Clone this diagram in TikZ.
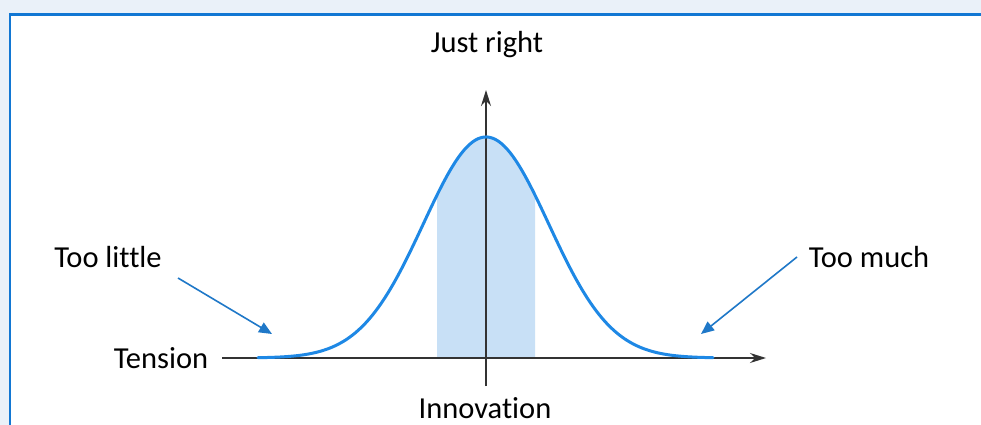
\documentclass[tikz,border=0pt]{standalone}
\usepackage{fontspec}
\setmainfont{Carlito}[Ligatures={NoCommon}]
\usetikzlibrary{arrows.meta,positioning}
\definecolor{pagebg}{HTML}{EAF1F9}
\definecolor{frame}{HTML}{1277D3}
\definecolor{curve}{HTML}{1E88E5}
\definecolor{band}{HTML}{C8E0F6}
\definecolor{pointer}{HTML}{1F78C8}
\definecolor{axisc}{HTML}{333333}
\newcommand{\bell}[1]{358-221*exp(-0.5*((#1-486)/62.7)^2)}
\tikzset{lbl/.style={font=\fontsize{30.5}{36}\selectfont,text=black,inner sep=0pt},
  axisline/.style={axisc,line width=1.4pt,-{Stealth[length=16pt,width=10pt]}},
  pointerline/.style={pointer,line width=1.6pt,-{Triangle[length=13pt,width=11pt]}},
  bellline/.style={curve,line width=3pt,line cap=round}}

\begin{document}
\begin{tikzpicture}[x=1pt,y=-1pt]
\useasboundingbox (0,0) rectangle (981,425);
\fill[pagebg] (0,0) rectangle (981,425);
\fill[white] (10,14.5) rectangle (981,425);
\draw[frame,line width=2.5pt] (10,425) -- (10,14.5) -- (981,14.5);
% shaded band under the bell
\fill[band] (437,358) -- plot[domain=437:535,samples=40] (\x,{\bell{\x}}) -- (535,358) -- cycle;
% axes
\coordinate (xstart) at (222,358);
\coordinate (xend) at (766,358);
\coordinate (ystart) at (486,386);
\coordinate (yend) at (486,90);
\draw[axisline] (xstart) -- (xend);
\draw[axisline] (ystart) -- (yend);
% bell curve
\draw[bellline] plot[domain=258:713,samples=160] (\x,{\bell{\x}});
% labels
\node[lbl] (right) at (487,45) {Just right};
\node[lbl] (little) at (108,257) {Too little};
\node[lbl] (much) at (869,257) {Too much};
\node[lbl] (tension) at (161,358) {Tension};
\node[lbl] (innov) at (485,408) {Innovation};
% pointers
\coordinate (littletip) at (272,334);
\coordinate (muchtip) at (701,334);
\draw[pointerline] ([xshift=70pt,yshift=-21pt]little.center) -- (littletip);
\draw[pointerline] ([xshift=-72pt,yshift=0pt]much.center) -- (muchtip);
\end{tikzpicture}
\end{document}
